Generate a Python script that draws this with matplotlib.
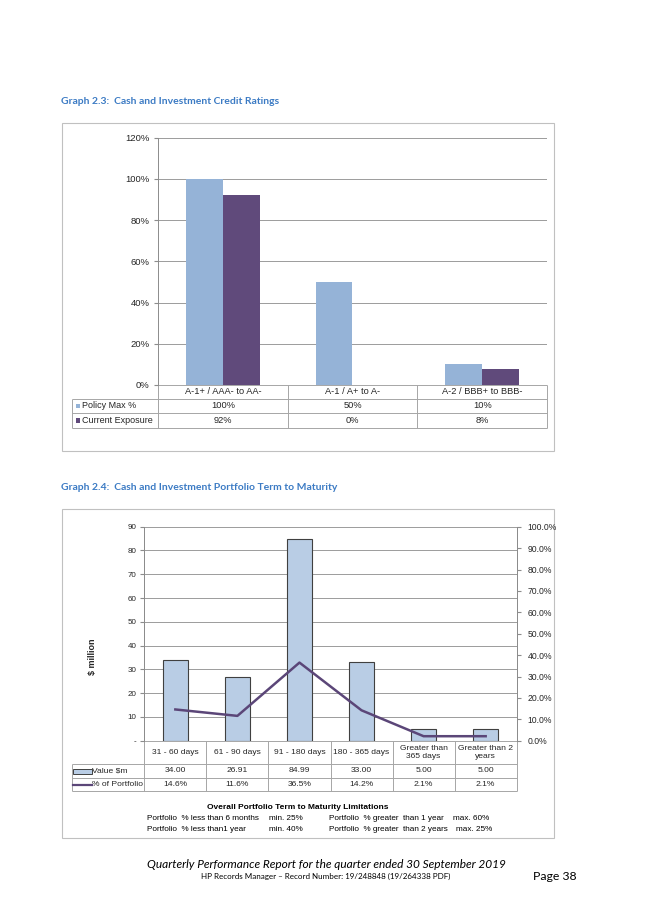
import matplotlib
matplotlib.use("Agg")
import numpy as np
import matplotlib.pyplot as plt
from matplotlib.patches import Rectangle
from matplotlib.transforms import blended_transform_factory as blend

W, H = 653, 923

# === Graph 2.3 data ===
rating_cats = ["A-1+ / AAA- to AA-", "A-1 / A+ to A-", "A-2 / BBB+ to BBB-"]
policy_max = [100, 50, 10]
current_exp = [92, 0, 8]
rating_ticks = [0, 20, 40, 60, 80, 100, 120]

# === Graph 2.4 data ===
term_cats = ["31 - 60 days", "61 - 90 days", "91 - 180 days", "180 - 365 days",
             "Greater than\n365 days", "Greater than 2\nyears"]
value_m = [34.00, 26.91, 84.99, 33.00, 5.00, 5.00]
pct_portfolio = [14.6, 11.6, 36.5, 14.2, 2.1, 2.1]
value_ticks = [0, 10, 20, 30, 40, 50, 60, 70, 80, 90]
pct_ticks = [0, 10, 20, 30, 40, 50, 60, 70, 80, 90, 100]
limit_left = ["Portfolio  % less than 6 months", "Portfolio  % less than1 year"]
limit_left_val = ["min. 25%", "min. 40%"]
limit_right = ["Portfolio  % greater  than 1 year", "Portfolio  % greater  than 2 years"]
limit_right_val = ["max. 60%", "max. 25%"]

# === Styles ===
TITLE_BLUE = "#3C7BC4"
POLICY = "#95B3D7"
CURRENT = "#604A7B"
BAR2 = "#B9CDE5"
LINE2 = "#5B4678"
GRID = "#8C8C8C"
TBL = "#A6A6A6"
FRAME = "#C0C0C0"
TXT = "#262626"
ARIAL = "Liberation Sans"
CAL = "Lato"


def ax_rect(l, t, r, b):
    return [l / W, 1 - b / H, (r - l) / W, (b - t) / H]


fig = plt.figure(figsize=(W / 100, H / 100), dpi=100)
page = fig.add_axes([0, 0, 1, 1])
page.set_xlim(0, W)
page.set_ylim(H, 0)
page.set_autoscale_on(False)
page.axis("off")


def hline(x0, x1, y, trans=None, **kw):
    kw.setdefault("color", TBL)
    kw.setdefault("lw", 0.7)
    page.plot([x0, x1], [y, y], transform=trans or page.transData, solid_capstyle="butt", **kw)


def vline(x, y0, y1, trans=None, **kw):
    kw.setdefault("color", TBL)
    kw.setdefault("lw", 0.7)
    page.plot([x, x], [y0, y1], transform=trans or page.transData, solid_capstyle="butt", **kw)


# === Graph 2.3 ===
page.text(61, 101, "Graph 2.3:  Cash and Investment Credit Ratings", family=CAL,
          weight="bold", fontsize=7.5, color=TITLE_BLUE, va="center")
page.add_patch(Rectangle((62, 123), 492, 328, fill=False, ec=FRAME, lw=0.8))

ax1 = fig.add_axes(ax_rect(158, 137.7, 547, 385))
x1 = np.arange(len(rating_cats))
bw = 0.285
ax1.bar(x1 - bw / 2, policy_max, bw, color=POLICY, zorder=3)
ax1.bar(x1 + bw / 2, current_exp, bw, color=CURRENT, zorder=3)
ax1.set_xlim(-0.5, len(rating_cats) - 0.5)
ax1.set_ylim(0, 120)
ax1.set_yticks(rating_ticks)
ax1.set_yticklabels([f"{v}%" for v in rating_ticks], family=ARIAL, fontsize=6.8, color=TXT)
ax1.set_xticks([])
ax1.grid(axis="y", color=GRID, lw=0.6)
ax1.set_axisbelow(True)
for s in ["top", "right", "bottom"]:
    ax1.spines[s].set_visible(False)
ax1.spines["left"].set_color(GRID)
ax1.spines["left"].set_linewidth(0.7)
ax1.tick_params(axis="y", length=3, color=GRID, pad=3)

# data table under graph 2.3
t1 = blend(ax1.transData, page.transData)
rows1 = [385, 399, 413, 427.7]
hline(158, 547, rows1[0])
for y in rows1[1:]:
    hline(71.7, 547, y)
vline(71.7, rows1[1], rows1[3])
vline(158, rows1[0], rows1[3])
for b in np.arange(len(rating_cats) + 1) - 0.5:
    vline(b, rows1[0], rows1[3], trans=t1)
for i, c in enumerate(rating_cats):
    page.text(i, (rows1[0] + rows1[1]) / 2, c, transform=t1, ha="center", va="center",
              family=ARIAL, fontsize=6.7, color=TXT)
    page.text(i, (rows1[1] + rows1[2]) / 2, f"{policy_max[i]}%", transform=t1, ha="center",
              va="center", family=ARIAL, fontsize=6.7, color=TXT)
    page.text(i, (rows1[2] + rows1[3]) / 2, f"{current_exp[i]}%", transform=t1, ha="center",
              va="center", family=ARIAL, fontsize=6.7, color=TXT)
for (y0, y1), lab, col in [((rows1[1], rows1[2]), "Policy Max %", POLICY),
                           ((rows1[2], rows1[3]), "Current Exposure", CURRENT)]:
    yc = (y0 + y1) / 2
    page.add_patch(Rectangle((75.5, yc - 2.3), 4.6, 4.6, color=col, lw=0))
    page.text(82, yc, lab, va="center", family=ARIAL, fontsize=6.5, color=TXT)

# === Graph 2.4 ===
page.text(61, 488, "Graph 2.4:  Cash and Investment Portfolio Term to Maturity", family=CAL,
          weight="bold", fontsize=7.5, color=TITLE_BLUE, va="center")
page.add_patch(Rectangle((62, 509.3), 492, 329, fill=False, ec=FRAME, lw=0.8))

ax2 = fig.add_axes(ax_rect(144.3, 526.7, 516.7, 740.7))
x2 = np.arange(len(term_cats))
ax2.bar(x2, value_m, 0.4, color=BAR2, edgecolor="#404040", lw=0.8, zorder=3)
ax2.set_xlim(-0.5, len(term_cats) - 0.5)
ax2.set_ylim(0, 90)
ax2.set_yticks(value_ticks)
ax2.set_yticklabels(["-" if v == 0 else str(v) for v in value_ticks], family=ARIAL,
                    fontsize=5.8, color=TXT)
ax2.set_xticks([])
ax2.grid(axis="y", color=GRID, lw=0.6)
ax2.set_axisbelow(True)
ax2.set_ylabel("$ million", family=ARIAL, weight="bold", fontsize=6.5, color=TXT)
ax2.yaxis.set_label_coords((97.5 - 144.3) / (516.7 - 144.3), (740.7 - 657) / 214)
ax2.tick_params(axis="y", length=3, color=GRID, pad=2.5)

ax2r = ax2.twinx()
ax2r.plot(x2, pct_portfolio, color=LINE2, lw=1.8, zorder=4)
ax2r.set_ylim(0, 100)
ax2r.set_yticks(pct_ticks)
ax2r.set_yticklabels([f"{v:.1f}%" for v in pct_ticks], family=ARIAL, fontsize=6.2, color=TXT)
ax2r.tick_params(axis="y", length=3, color=GRID, pad=5)
for a in (ax2, ax2r):
    a.spines["top"].set_visible(False)
    a.spines["bottom"].set_visible(False)
    a.spines["left"].set_color(GRID)
    a.spines["right"].set_color(GRID)
    a.spines["left"].set_linewidth(0.7)
    a.spines["right"].set_linewidth(0.7)

# data table under graph 2.4
t2 = blend(ax2.transData, page.transData)
rows2 = [740.7, 764.3, 777.7, 791.3]
hline(144.3, 516.7, rows2[0])
for y in rows2[1:]:
    hline(71.7, 516.7, y)
vline(71.7, rows2[1], rows2[3])
for b in np.arange(len(term_cats) + 1) - 0.5:
    vline(b, rows2[0], rows2[3], trans=t2)
for i, c in enumerate(term_cats):
    page.text(i, (rows2[0] + rows2[1]) / 2, c, transform=t2, ha="center", va="center",
              family=ARIAL, fontsize=6.1, color=TXT, linespacing=1.05)
    page.text(i, (rows2[1] + rows2[2]) / 2, f"{value_m[i]:.2f}", transform=t2, ha="center",
              va="center", family=ARIAL, fontsize=6.1, color=TXT)
    page.text(i, (rows2[2] + rows2[3]) / 2, f"{pct_portfolio[i]:.1f}%", transform=t2, ha="center",
              va="center", family=ARIAL, fontsize=6.1, color=TXT)
yc = (rows2[1] + rows2[2]) / 2
page.add_patch(Rectangle((73, yc - 2.5), 18.5, 5, fc=BAR2, ec="#404040", lw=0.7))
page.text(92.3, yc, "Value $m", va="center", family=ARIAL, fontsize=6.1, color=TXT)
yc = (rows2[2] + rows2[3]) / 2
page.plot([73, 92], [yc, yc], color=LINE2, lw=1.6)
page.text(92.3, yc, "% of Portfolio", va="center", family=ARIAL, fontsize=6.1, color=TXT)

# limitations note
page.text(298, 807.3, "Overall Portfolio Term to Maturity Limitations", ha="center", va="center",
          family=ARIAL, weight="bold", fontsize=6.0, color="black")
for k, y in enumerate([819, 829.3]):
    page.text(146.7, y, limit_left[k], va="center", family=ARIAL, fontsize=5.9, color="black")
    page.text(269, y, limit_left_val[k], va="center", family=ARIAL, fontsize=5.9, color="black")
    page.text(329, y, limit_right[k], va="center", family=ARIAL, fontsize=5.9, color="black")
    page.text(453 + 2.5 * k, y, limit_right_val[k], va="center", family=ARIAL, fontsize=5.9,
              color="black")

# === Footer ===
page.text(326, 865, "Quarterly Performance Report for the quarter ended 30 September 2019",
          ha="center", va="center", family=CAL, style="italic", fontsize=8.6, color="black")
page.text(326, 876, "HP Records Manager \u2013 Record Number: 19/248848 (19/264338 PDF)",
          ha="center", va="center", family=CAL, fontsize=5.8, color="black")
page.text(577, 876, "Page 38", ha="right", va="center", family=CAL, fontsize=8.8, color="black")

fig.savefig("out.png", dpi=100)
